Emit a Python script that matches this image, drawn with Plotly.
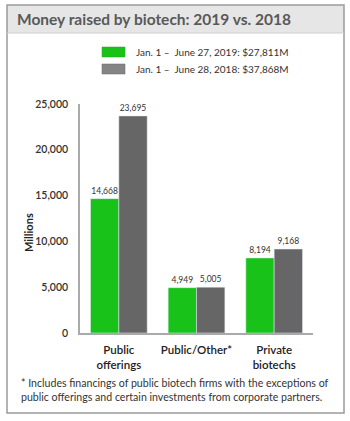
import plotly.graph_objects as go

categories = ["Public<br>offerings", "Public/Other*", "Private<br>biotechs"]
values_2019 = [14668, 4949, 8194]
values_2018 = [23695, 5005, 9168]
legend_2019 = "Jan. 1 –  June 27, 2019: $27,811M"
legend_2018 = "Jan. 1 –  June 28, 2018: $37,868M"
tick_vals = [0, 5000, 10000, 15000, 20000, 25000]
tick_text = ["0", "5,000", "10,000", "15,000", "20,000", "25,000"]
title_text = "Money raised by biotech: 2019 vs. 2018"
footnote = ("* Includes financings of public biotech firms with the exceptions of<br>"
            "public offerings and certain investments from corporate partners.")

W, H = 350, 421
L, R, T, B = 80, 37, 104, 88
PW, PH = W - L - R, H - T - B

def px(x):
    return (x - L) / PW

def py(y):
    return (H - B - y) / PH

FONT = "Lato"
GREEN = "#19c219"
GRAY = "#666666"

fig = go.Figure()
fig.add_trace(go.Bar(x=categories, y=values_2019, name=legend_2019,
                     marker=dict(color=GREEN),
                     texttemplate="%{y:,}", textposition="outside",
                     textfont=dict(size=8.5, color="#333", family=FONT),
                     cliponaxis=False))
fig.add_trace(go.Bar(x=categories, y=values_2018, name=legend_2018,
                     marker=dict(color=GRAY),
                     texttemplate="%{y:,}", textposition="outside",
                     textfont=dict(size=8.5, color="#333", family=FONT),
                     cliponaxis=False))

shapes = [
    dict(type="rect", xref="paper", yref="paper", x0=px(7), x1=px(344), y0=py(5), y1=py(33),
         fillcolor="#e6e6e6", line=dict(width=0), layer="below"),
    dict(type="rect", xref="paper", yref="paper", x0=px(7), x1=px(344), y0=py(5), y1=py(413),
         line=dict(color="#9a9a9a", width=1.5), fillcolor="rgba(0,0,0,0)"),
    dict(type="line", xref="paper", yref="paper", x0=px(7), x1=px(344), y0=py(33), y1=py(33),
         line=dict(color="#d0d0d0", width=1)),
    dict(type="rect", xref="paper", yref="paper", x0=px(102), x1=px(125), y0=py(47), y1=py(57),
         fillcolor=GREEN, line=dict(color="#2aa52a", width=0.5)),
    dict(type="rect", xref="paper", yref="paper", x0=px(102), x1=px(125), y0=py(64), y1=py(74),
         fillcolor="#858585", line=dict(color="#666", width=0.5)),
]

annotations = [
    dict(text="<b>" + title_text + "</b>", xref="paper", yref="paper", x=px(15), y=py(19),
         xanchor="left", yanchor="middle", showarrow=False,
         font=dict(size=15.5, color="#595959", family=FONT)),
    dict(text=legend_2019, xref="paper", yref="paper", x=px(134), y=py(52),
         xanchor="left", yanchor="middle", showarrow=False,
         font=dict(size=10, color="#333", family=FONT)),
    dict(text=legend_2018, xref="paper", yref="paper", x=px(134), y=py(69),
         xanchor="left", yanchor="middle", showarrow=False,
         font=dict(size=10, color="#333", family=FONT)),
    dict(text=footnote, xref="paper", yref="paper", x=px(19), y=py(390),
         xanchor="left", yanchor="middle", align="left", showarrow=False,
         font=dict(size=10.6, color="#333", family=FONT)),
    dict(text="<b>Millions</b>", xref="paper", yref="paper", x=px(28), y=py(233),
         xanchor="center", yanchor="middle", textangle=-90, showarrow=False,
         font=dict(size=11, color="#222", family=FONT)),
]

fig.update_layout(
    width=W, height=H,
    margin=dict(l=L, r=R, t=T, b=B),
    paper_bgcolor="white", plot_bgcolor="white",
    barmode="group", bargap=0.27, bargroupgap=0,
    showlegend=False,
    font=dict(family=FONT, color="#333"),
    shapes=shapes, annotations=annotations,
    xaxis=dict(showline=True, linecolor="#aaaaaa", linewidth=1.5, ticks="",
               ticklabelstandoff=5,
               tickfont=dict(size=11.5, color="#222", family=FONT, weight=600), showgrid=False),
    yaxis=dict(range=[0, 25000], tickvals=tick_vals, ticktext=tick_text,
               showline=True, linecolor="#aaaaaa", linewidth=1.5, ticks="",
               showgrid=False, zeroline=False, ticklabelstandoff=8,
               tickfont=dict(size=10.5, color="#333", family=FONT, weight=600)),
)

fig.write_html("out.html")
